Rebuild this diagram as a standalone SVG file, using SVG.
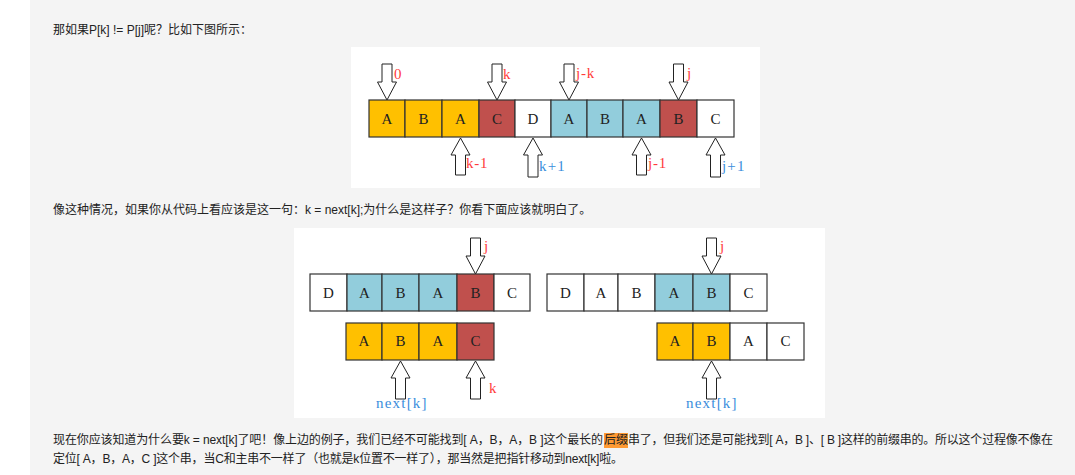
<svg xmlns="http://www.w3.org/2000/svg" width="1075" height="475" viewBox="0 0 1075 475">
<style>
.p{font-family:"Liberation Sans","Noto Sans CJK SC",sans-serif;font-size:12px;fill:#222}
.c{stroke:#333;stroke-width:1.2}
.o{fill:#FFC000}.r{fill:#C0504D}.b{fill:#92CDDC}.w{fill:#fff}
.t{font-family:"Liberation Serif",serif;font-size:15px;fill:#222;text-anchor:middle}
.ar{fill:#fff;stroke:#222;stroke-width:1}
.lr{font-family:"Liberation Serif",serif;font-size:15px;fill:#FF3B3B;letter-spacing:0.8px}
.lb{font-family:"Liberation Serif",serif;font-size:15px;fill:#3A8EDC;letter-spacing:1.2px}
</style>
<rect x="0" y="0" width="1075" height="475" fill="#fff"/>
<rect x="30" y="0" width="1045" height="475" fill="#f4f4f4"/>
<text class="p" x="53" y="34">那如果P[k] != P[j]呢？比如下图所示：</text>
<text class="p" x="53" y="214">像这种情况，如果你从代码上看应该是这一句：k = next[k];为什么是这样子？你看下面应该就明白了。</text>
<rect x="604" y="433" width="24" height="15" fill="#FF9A33"/>
<text class="p" y="444"><tspan x="53" textLength="550" lengthAdjust="spacing">现在你应该知道为什么要k = next[k]了吧！像上边的例子，我们已经不可能找到[ A，B，A，B ]这个最长的</tspan><tspan x="604">后缀</tspan><tspan x="628" textLength="425" lengthAdjust="spacing">串了，但我们还是可能找到[ A，B ]、[ B ]这样的前缀串的。所以这个过程像不像在</tspan></text>
<text class="p" x="53" y="463" textLength="570" lengthAdjust="spacing">定位[ A，B，A，C ]这个串，当C和主串不一样了（也就是k位置不一样了），那当然是把指针移动到next[k]啦。</text>

<rect x="351" y="47" width="409" height="141" fill="#fff"/>
<rect x="294" y="228" width="531" height="190" fill="#fff"/>

<g id="fig1-cells">
<g id="f1c0"><rect class="c o" x="369" y="100" width="36" height="37"/><text class="t" x="387" y="124">A</text></g>
<g id="f1c1"><rect class="c o" x="405" y="100" width="37" height="37"/><text class="t" x="423.5" y="124">B</text></g>
<g id="f1c2"><rect class="c o" x="442" y="100" width="37" height="37"/><text class="t" x="460.5" y="124">A</text></g>
<g id="f1c3"><rect class="c r" x="479" y="100" width="36" height="37"/><text class="t" x="497" y="124">C</text></g>
<g id="f1c4"><rect class="c w" x="515" y="100" width="36" height="37"/><text class="t" x="533" y="124">D</text></g>
<g id="f1c5"><rect class="c b" x="551" y="100" width="36" height="37"/><text class="t" x="569" y="124">A</text></g>
<g id="f1c6"><rect class="c b" x="587" y="100" width="36" height="37"/><text class="t" x="605" y="124">B</text></g>
<g id="f1c7"><rect class="c b" x="623" y="100" width="37" height="37"/><text class="t" x="641.5" y="124">A</text></g>
<g id="f1c8"><rect class="c r" x="660" y="100" width="37" height="37"/><text class="t" x="678.5" y="124">B</text></g>
<g id="f1c9"><rect class="c w" x="697" y="100" width="37" height="37"/><text class="t" x="715.5" y="124">C</text></g>
</g>

<g id="fig2-cells">
<g id="f2a0"><rect class="c w" x="310" y="274" width="37" height="37"/><text class="t" x="328.5" y="298">D</text></g>
<g id="f2a1"><rect class="c b" x="347" y="274" width="35" height="37"/><text class="t" x="364.5" y="298">A</text></g>
<g id="f2a2"><rect class="c b" x="382" y="274" width="37" height="37"/><text class="t" x="400.5" y="298">B</text></g>
<g id="f2a3"><rect class="c b" x="419" y="274" width="38" height="37"/><text class="t" x="438" y="298">A</text></g>
<g id="f2a4"><rect class="c r" x="457" y="274" width="37" height="37"/><text class="t" x="475.5" y="298">B</text></g>
<g id="f2a5"><rect class="c w" x="494" y="274" width="36" height="37"/><text class="t" x="512" y="298">C</text></g>
<g id="f2b0"><rect class="c o" x="346" y="323" width="36" height="37"/><text class="t" x="364" y="346">A</text></g>
<g id="f2b1"><rect class="c o" x="382" y="323" width="37" height="37"/><text class="t" x="400.5" y="346">B</text></g>
<g id="f2b2"><rect class="c o" x="419" y="323" width="38" height="37"/><text class="t" x="438" y="346">A</text></g>
<g id="f2b3"><rect class="c r" x="457" y="323" width="37" height="37"/><text class="t" x="475.5" y="346">C</text></g>
</g>

<g id="fig3-cells">
<g id="f3a0"><rect class="c w" x="547" y="274" width="37" height="37"/><text class="t" x="565.5" y="298">D</text></g>
<g id="f3a1"><rect class="c w" x="584" y="274" width="34" height="37"/><text class="t" x="601" y="298">A</text></g>
<g id="f3a2"><rect class="c w" x="618" y="274" width="37" height="37"/><text class="t" x="636.5" y="298">B</text></g>
<g id="f3a3"><rect class="c b" x="655" y="274" width="38" height="37"/><text class="t" x="674" y="298">A</text></g>
<g id="f3a4"><rect class="c b" x="693" y="274" width="37" height="37"/><text class="t" x="711.5" y="298">B</text></g>
<g id="f3a5"><rect class="c w" x="730" y="274" width="37" height="37"/><text class="t" x="748.5" y="298">C</text></g>
<g id="f3b0"><rect class="c o" x="657" y="323" width="36" height="37"/><text class="t" x="675" y="346">A</text></g>
<g id="f3b1"><rect class="c o" x="693" y="323" width="37" height="37"/><text class="t" x="711.5" y="346">B</text></g>
<g id="f3b2"><rect class="c w" x="730" y="323" width="37" height="37"/><text class="t" x="748.5" y="346">A</text></g>
<g id="f3b3"><rect class="c w" x="767" y="323" width="37" height="37"/><text class="t" x="785.5" y="346">C</text></g>
</g>

<g id="connectors">
<path class="ar" d="M382,64 V82 H377.5 L387,100 L396.5,82 H392 V64 Z"/>
<path class="ar" d="M492,64 V82 H487.5 L497,100 L506.5,82 H502 V64 Z"/>
<path class="ar" d="M564,64 V82 H559.5 L569,100 L578.5,82 H574 V64 Z"/>
<path class="ar" d="M673.5,64 V82 H669 L678.5,100 L688,82 H683.5 V64 Z"/>
<path class="ar" d="M455.5,175 V155 H451 L460.5,138 L470,155 H465.5 V175 Z"/>
<path class="ar" d="M528,177 V155 H523.5 L533,138 L542.5,155 H538 V177 Z"/>
<path class="ar" d="M636.5,175 V155 H632 L641.5,138 L651,155 H646.5 V175 Z"/>
<path class="ar" d="M710.5,177 V155 H706 L715.5,138 L725,155 H720.5 V177 Z"/>
<path class="ar" d="M470.5,238 V256 H466 L475.5,274 L485,256 H480.5 V238 Z"/>
<path class="ar" d="M395.5,399 V378 H391 L400.5,361 L410,378 H405.5 V399 Z"/>
<path class="ar" d="M470.5,399 V378 H466 L475.5,361 L485,378 H480.5 V399 Z"/>
<path class="ar" d="M706.5,238 V256 H702 L711.5,274 L721,256 H716.5 V238 Z"/>
<path class="ar" d="M706.5,399 V378 H702 L711.5,361 L721,378 H716.5 V399 Z"/>
<text class="lr" x="394" y="79">0</text>
<text class="lr" x="503" y="79">k</text>
<text class="lr" x="576" y="78">j-k</text>
<text class="lr" x="687" y="78">j</text>
<text class="lr" x="466" y="168">k-1</text>
<text class="lb" x="539" y="171">k+1</text>
<text class="lr" x="648" y="168">j-1</text>
<text class="lb" x="722" y="171">j+1</text>
<text class="lr" x="484" y="251">j</text>
<text class="lr" x="489" y="393">k</text>
<text class="lb" x="376" y="408">next[k]</text>
<text class="lr" x="720" y="251">j</text>
<text class="lb" x="686" y="408">next[k]</text>
</g>
</svg>
